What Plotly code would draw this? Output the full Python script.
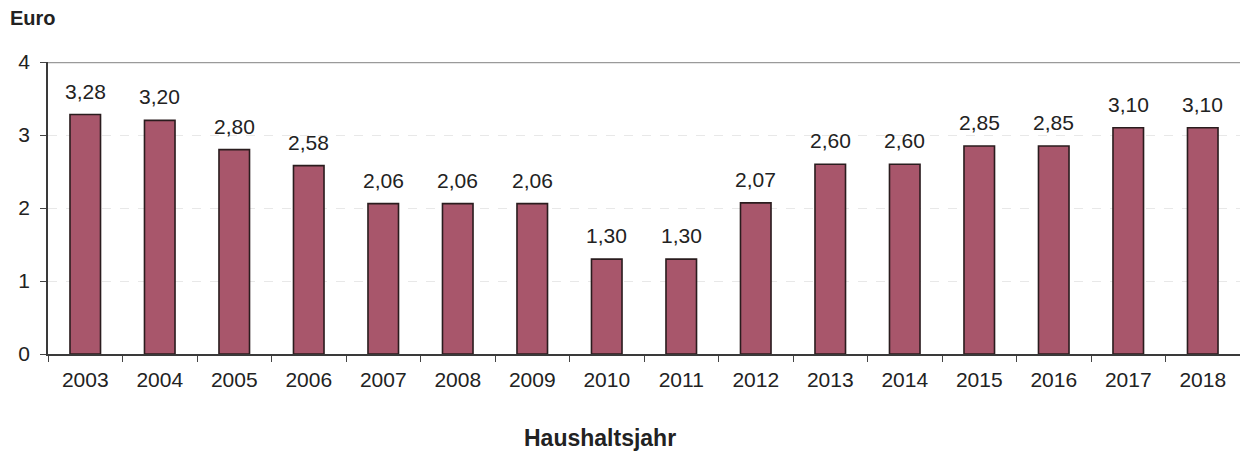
import plotly.graph_objects as go

years = ["2003", "2004", "2005", "2006", "2007", "2008", "2009", "2010",
         "2011", "2012", "2013", "2014", "2015", "2016", "2017", "2018"]
values = [3.28, 3.20, 2.80, 2.58, 2.06, 2.06, 2.06, 1.30,
          1.30, 2.07, 2.60, 2.60, 2.85, 2.85, 3.10, 3.10]
labels = [f"{v:.2f}".replace(".", ",") for v in values]

font = "Liberation Sans, Arial, sans-serif"

fig = go.Figure(go.Bar(
    x=years, y=values,
    marker=dict(color="#A8566B", line=dict(color="#2a1c1e", width=1.6)),
    width=0.41,
))

# value labels above each bar (category axis positions by index)
value_notes = [
    dict(x=i, y=v, text=lab, xref="x", yref="y", showarrow=False,
         yanchor="bottom", yshift=10,
         font=dict(family=font, size=21, color="#222"))
    for i, (v, lab) in enumerate(zip(values, labels))
]

fig.update_layout(
    width=1240, height=455,
    margin=dict(l=48, r=0, t=62, b=101),
    paper_bgcolor="white", plot_bgcolor="white",
    showlegend=False,
    font=dict(family=font, color="#222"),
    xaxis=dict(
        type="category", tickson="boundaries", ticks="outside", ticklen=6,
        tickcolor="#444", showline=True, linecolor="#3a3a3a", linewidth=1.5,
        tickfont=dict(size=21, color="#222"), showgrid=False,
        ticklabelstandoff=6, tickangle=0,
    ),
    yaxis=dict(
        range=[0, 4], dtick=1, ticks="outside", ticklen=6, tickcolor="#444",
        showline=True, linecolor="#3a3a3a", linewidth=1.5,
        tickfont=dict(size=21, color="#222"),
        showgrid=True, gridcolor="#e8e8e8", griddash="dash", gridwidth=1,
        zeroline=False, ticklabelstandoff=6,
    ),
    shapes=[dict(type="line", xref="paper", yref="y", x0=0, x1=1, y0=4, y1=4,
                 line=dict(color="#9a9a9a", width=2.5))],
    annotations=value_notes + [
        dict(text="<b>Euro</b>", xref="paper", yref="paper", x=0, y=1,
             xshift=-40, yshift=44, xanchor="left", yanchor="middle",
             showarrow=False, font=dict(family=font, size=20, color="#222")),
        dict(text="<b>Haushaltsjahr</b>", xref="paper", yref="paper",
             x=0.463, y=0, yshift=-84, xanchor="center", yanchor="middle",
             showarrow=False, font=dict(family=font, size=23, color="#222")),
    ],
)

fig.write_html("out.html")
